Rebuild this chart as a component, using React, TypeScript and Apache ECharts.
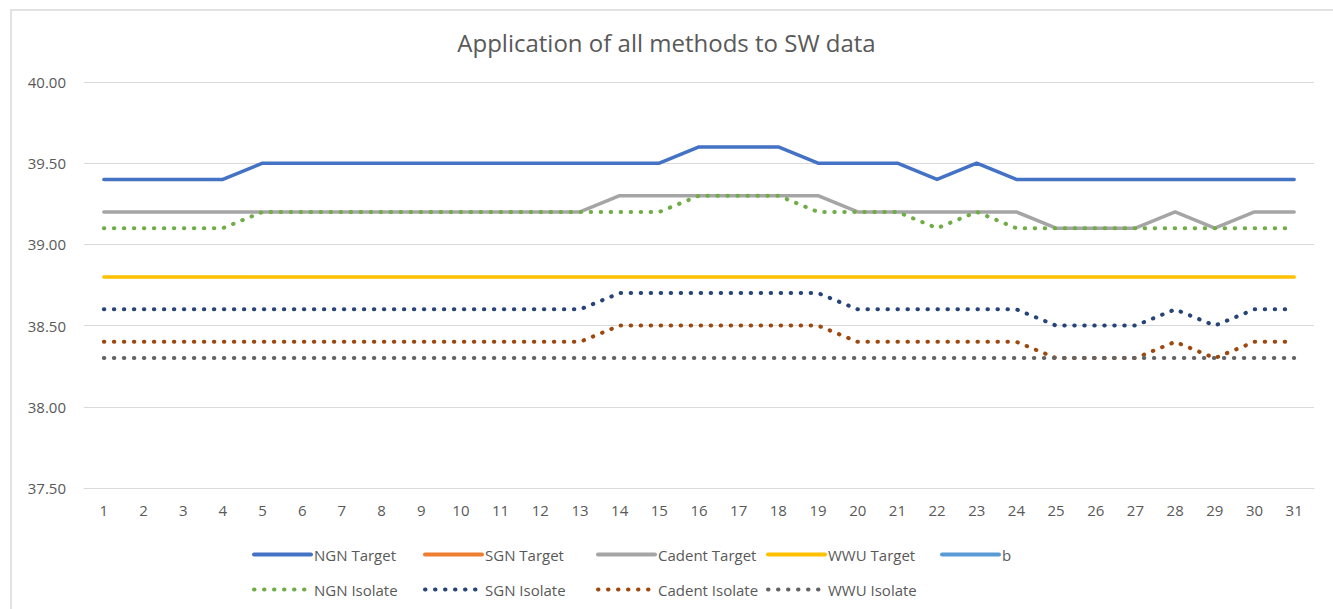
import React, { useEffect, useRef } from "react";
import * as echarts from "echarts";

const categories = Array.from({ length: 31 }, (_, i) => String(i + 1));

const ngnTarget = [39.4, 39.4, 39.4, 39.4, 39.5, 39.5, 39.5, 39.5, 39.5, 39.5, 39.5, 39.5, 39.5, 39.5, 39.5, 39.6, 39.6, 39.6, 39.5, 39.5, 39.5, 39.4, 39.5, 39.4, 39.4, 39.4, 39.4, 39.4, 39.4, 39.4, 39.4];
const sgnTarget: (number | null)[] = [];
const cadentTarget = [39.2, 39.2, 39.2, 39.2, 39.2, 39.2, 39.2, 39.2, 39.2, 39.2, 39.2, 39.2, 39.2, 39.3, 39.3, 39.3, 39.3, 39.3, 39.3, 39.2, 39.2, 39.2, 39.2, 39.2, 39.1, 39.1, 39.1, 39.2, 39.1, 39.2, 39.2];
const wwuTarget = [38.8, 38.8, 38.8, 38.8, 38.8, 38.8, 38.8, 38.8, 38.8, 38.8, 38.8, 38.8, 38.8, 38.8, 38.8, 38.8, 38.8, 38.8, 38.8, 38.8, 38.8, 38.8, 38.8, 38.8, 38.8, 38.8, 38.8, 38.8, 38.8, 38.8, 38.8];
const bSeries: (number | null)[] = [];
const ngnIsolate = [39.1, 39.1, 39.1, 39.1, 39.2, 39.2, 39.2, 39.2, 39.2, 39.2, 39.2, 39.2, 39.2, 39.2, 39.2, 39.3, 39.3, 39.3, 39.2, 39.2, 39.2, 39.1, 39.2, 39.1, 39.1, 39.1, 39.1, 39.1, 39.1, 39.1, 39.1];
const sgnIsolate = [38.6, 38.6, 38.6, 38.6, 38.6, 38.6, 38.6, 38.6, 38.6, 38.6, 38.6, 38.6, 38.6, 38.7, 38.7, 38.7, 38.7, 38.7, 38.7, 38.6, 38.6, 38.6, 38.6, 38.6, 38.5, 38.5, 38.5, 38.6, 38.5, 38.6, 38.6];
const cadentIsolate = [38.4, 38.4, 38.4, 38.4, 38.4, 38.4, 38.4, 38.4, 38.4, 38.4, 38.4, 38.4, 38.4, 38.5, 38.5, 38.5, 38.5, 38.5, 38.5, 38.4, 38.4, 38.4, 38.4, 38.4, 38.3, 38.3, 38.3, 38.4, 38.3, 38.4, 38.4];
const wwuIsolate = [38.3, 38.3, 38.3, 38.3, 38.3, 38.3, 38.3, 38.3, 38.3, 38.3, 38.3, 38.3, 38.3, 38.3, 38.3, 38.3, 38.3, 38.3, 38.3, 38.3, 38.3, 38.3, 38.3, 38.3, 38.3, 38.3, 38.3, 38.3, 38.3, 38.3, 38.3];

const seriesDefs = [
  { name: "NGN Target", data: ngnTarget, color: "#4472C4", dotted: false },
  { name: "SGN Target", data: sgnTarget, color: "#ED7D31", dotted: false },
  { name: "Cadent Target", data: cadentTarget, color: "#A5A5A5", dotted: false },
  { name: "WWU Target", data: wwuTarget, color: "#FFC000", dotted: false },
  { name: "b", data: bSeries, color: "#5B9BD5", dotted: false },
  { name: "NGN Isolate", data: ngnIsolate, color: "#70AD47", dotted: true },
  { name: "SGN Isolate", data: sgnIsolate, color: "#264478", dotted: true },
  { name: "Cadent Isolate", data: cadentIsolate, color: "#9E480E", dotted: true },
  { name: "WWU Isolate", data: wwuIsolate, color: "#636363", dotted: true },
];

const legendColumns = [
  { left: 252, names: ["NGN Target", "NGN Isolate"] },
  { left: 423, names: ["SGN Target", "SGN Isolate"] },
  { left: 596, names: ["Cadent Target", "Cadent Isolate"] },
  { left: 766, names: ["WWU Target", "WWU Isolate"] },
  { left: 940, names: ["b"] },
];

const FONT = "'Open Sans', 'Noto Sans', sans-serif";
const DOT = [0.5, 9.5];

export default function App() {
  const ref = useRef<HTMLDivElement>(null);
  useEffect(() => {
    if (!ref.current) return;
    const chart = echarts.init(ref.current, undefined, { renderer: "svg" });
    const byName: Record<string, (typeof seriesDefs)[number]> = {};
    seriesDefs.forEach((s) => (byName[s.name] = s));
    chart.setOption({
      animation: false,
      backgroundColor: "#ffffff",
      title: {
        text: "Application of all methods to SW data",
        left: "center",
        top: 25,
        textStyle: { fontFamily: FONT, fontSize: 24, fontWeight: "normal", color: "#595959" },
      },
      graphic: [
        {
          type: "rect",
          shape: { x: 11, y: 10, width: 1340, height: 640 },
          style: { fill: "none", stroke: "#d9d9d9", lineWidth: 1.5 },
          silent: true,
        },
      ],
      legend: legendColumns.map((col) => ({
        orient: "vertical",
        left: col.left,
        top: 547,
        itemWidth: 57,
        itemHeight: 14,
        itemGap: 20,
        data: col.names.map((n) => ({
          name: n,
          lineStyle: byName[n].dotted
            ? { width: 4, type: DOT, cap: "round", color: byName[n].color }
            : { width: 4, color: byName[n].color },
        })),
        itemStyle: { opacity: 0 },
        textStyle: { fontFamily: FONT, fontSize: 15, color: "#595959", padding: [0, 0, 0, -2] },
        selectedMode: false,
        padding: 0,
      })),
      grid: { left: 84, right: 19, top: 82, bottom: 121, containLabel: false },
      xAxis: {
        type: "category",
        data: categories,
        boundaryGap: true,
        axisLine: { lineStyle: { color: "#d9d9d9", width: 1 } },
        axisTick: { show: false },
        axisLabel: { fontFamily: FONT, fontSize: 15, color: "#595959", margin: 14, interval: 0 },
      },
      yAxis: {
        type: "value",
        min: 37.5,
        max: 40,
        interval: 0.5,
        axisLine: { show: false },
        axisTick: { show: false },
        splitLine: { lineStyle: { color: "#d9d9d9", width: 1 } },
        axisLabel: {
          fontFamily: FONT,
          fontSize: 15,
          color: "#595959",
          margin: 18,
          formatter: (v: number) => v.toFixed(2),
        },
      },
      series: seriesDefs.map((s) => ({
        name: s.name,
        type: "line",
        data: s.data,
        symbol: "none",
        color: s.color,
        lineStyle: s.dotted
          ? { color: s.color, width: 4, type: DOT, cap: "round" }
          : { color: s.color, width: 3.5, cap: "round", join: "round" },
        itemStyle: { color: s.color },
      })),
    });
    return () => chart.dispose();
  }, []);
  return <div ref={ref} style={{ position: "absolute", left: 0, top: 0, width: 1333, height: 609 }} />;
}
